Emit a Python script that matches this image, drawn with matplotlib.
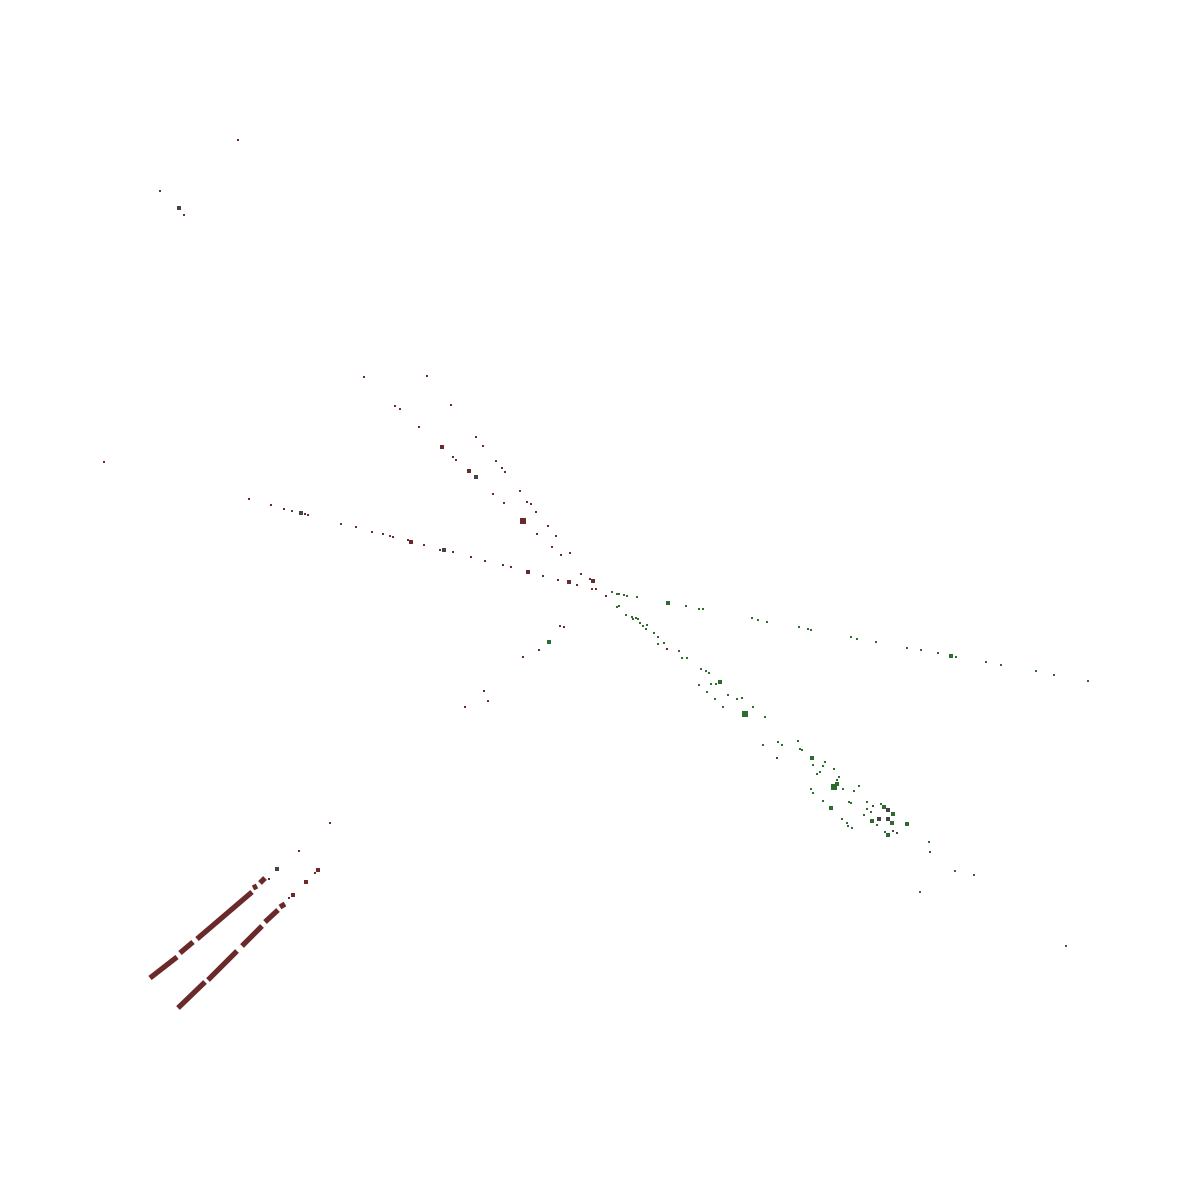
import matplotlib
matplotlib.use('Agg')
import matplotlib.pyplot as plt
import numpy as np

# point cloud, projected view: (x, y, size_px)
red_pts = [
    (238, 140, 1), (160, 191, 1), (184, 215, 2), (104, 462, 1), (364, 377, 1), (427, 376, 1),
    (395, 406, 2), (400, 409, 1), (451, 405, 1), (419, 427, 1), (442, 447, 3), (453, 457, 1),
    (456, 460, 1), (476, 437, 1), (483, 446, 1), (496, 461, 1), (502, 468, 1), (505, 472, 1),
    (469, 471, 3), (493, 494, 1), (520, 491, 1), (504, 503, 2), (527, 502, 2), (531, 504, 1),
    (536, 512, 1), (523, 521, 4), (548, 526, 1), (537, 534, 1), (556, 536, 1), (552, 547, 2),
    (561, 555, 1), (570, 553, 1), (581, 574, 1), (593, 581, 3), (590, 579, 1), (592, 589, 1),
    (596, 589, 1), (606, 596, 1),
    (249, 499, 1), (271, 505, 1), (284, 509, 2), (305, 514, 1), (308, 515, 2), (356, 527, 1),
    (372, 532, 2), (383, 534, 2), (390, 536, 1), (393, 537, 1), (411, 542, 3), (408, 540, 1),
    (424, 545, 1), (440, 550, 1), (453, 552, 2), (471, 557, 1), (485, 561, 1), (503, 565, 1),
    (511, 567, 2), (528, 572, 3), (543, 576, 1), (558, 580, 1), (569, 582, 3), (577, 585, 2),
    (560, 626, 1), (564, 627, 2), (539, 650, 1), (523, 657, 2), (484, 691, 1), (488, 701, 1),
    (465, 707, 2), (667, 649, 1),
    (299, 851, 1), (315, 873, 1), (289, 898, 1), (330, 823, 1), (269, 879, 2),
    (293, 895, 3), (306, 882, 3), (318, 870, 3),
]

green_pts = [
    (612, 592, 1), (617, 594, 1), (619, 594, 1), (624, 595, 2), (627, 596, 1), (637, 597, 1),
    (668, 603, 3), (686, 606, 1), (699, 609, 1), (703, 609, 1), (617, 607, 1), (619, 606, 1),
    (626, 615, 1), (632, 617, 1), (633, 619, 2), (636, 618, 1), (638, 619, 1), (640, 623, 1),
    (643, 626, 1), (647, 625, 2), (646, 629, 1), (654, 633, 1), (658, 637, 1), (658, 644, 1),
    (664, 643, 1), (679, 651, 2), (682, 658, 1), (687, 658, 1), (701, 669, 1), (706, 671, 2),
    (709, 673, 1), (699, 685, 1), (711, 684, 1), (716, 684, 1), (720, 682, 3), (707, 692, 2),
    (715, 699, 1), (728, 695, 2), (737, 699, 1), (742, 698, 2), (723, 707, 1), (753, 707, 1),
    (745, 714, 4), (765, 717, 1), (778, 742, 1), (763, 745, 1), (782, 745, 1), (798, 741, 2),
    (800, 749, 1), (802, 750, 1), (812, 758, 3), (813, 765, 2), (823, 766, 2), (825, 762, 1),
    (834, 769, 1), (817, 774, 1), (820, 772, 1), (839, 777, 2), (837, 780, 2), (834, 787, 4),
    (837, 784, 3), (843, 789, 1), (859, 786, 1), (854, 791, 2), (811, 789, 1), (813, 793, 1),
    (823, 801, 1), (831, 808, 3), (849, 802, 1), (851, 803, 1), (867, 802, 1), (871, 812, 2),
    (864, 815, 1), (884, 807, 3), (893, 814, 3), (872, 821, 3), (892, 823, 3), (907, 824, 3),
    (877, 825, 1), (888, 835, 3), (885, 832, 1), (842, 819, 2), (852, 828, 2), (847, 823, 1),
    (848, 826, 1), (881, 804, 1), (867, 809, 1), (929, 842, 1), (955, 871, 2), (974, 875, 1),
    (920, 892, 1), (1066, 946, 1), (549, 642, 3),
    (752, 618, 1), (758, 620, 1), (767, 622, 2), (799, 627, 1), (808, 629, 1), (811, 630, 1),
    (851, 637, 1), (857, 639, 1), (876, 642, 1), (907, 648, 2), (921, 650, 1), (938, 653, 2),
    (951, 656, 3), (956, 657, 1), (986, 662, 1), (1001, 665, 1), (1036, 671, 1), (1054, 675, 2),
    (1088, 681, 1),
]

gray_pts = [
    (179, 208, 3), (292, 511, 2), (301, 513, 3), (341, 524, 2), (444, 550, 3), (476, 477, 3),
    (277, 869, 3), (873, 806, 2), (888, 810, 3), (879, 819, 3), (888, 819, 3), (893, 831, 1),
    (897, 833, 1), (930, 852, 2), (777, 758, 1),
]

# the two dense rails in the lower left (x0, y0, x1, y1)
rail_segments = [
    (150, 978, 177, 957), (180, 953, 193, 942), (197, 939, 252, 892),
    (253, 888, 257, 886), (260, 883, 265, 878),
    (178, 1008, 205, 982), (208, 980, 237, 951), (242, 946, 262, 926),
    (265, 922, 278, 910), (280, 907, 285, 904),
]

RED = '#6b2a2a'
GREEN = '#2e6b2e'
GRAY = '#444444'

fig = plt.figure(figsize=(12, 11.82), dpi=100)
ax = fig.add_axes([0, 0, 1, 1])
ax.set_xlim(0, 1200)
ax.set_ylim(1182, 0)
ax.axis('off')

for x0, y0, x1, y1 in rail_segments:
    ax.plot([x0, x1], [y0, y1], color=RED, lw=3.8, solid_capstyle='butt')

for pts, col in [(red_pts, RED), (green_pts, GREEN), (gray_pts, GRAY)]:
    arr = np.array(pts, dtype=float)
    ax.scatter(arr[:, 0], arr[:, 1], s=(0.72 * arr[:, 2]) ** 2 * 1.7, c=col,
               marker='s', linewidths=0)

fig.savefig('out.png', dpi=100, facecolor='white')
